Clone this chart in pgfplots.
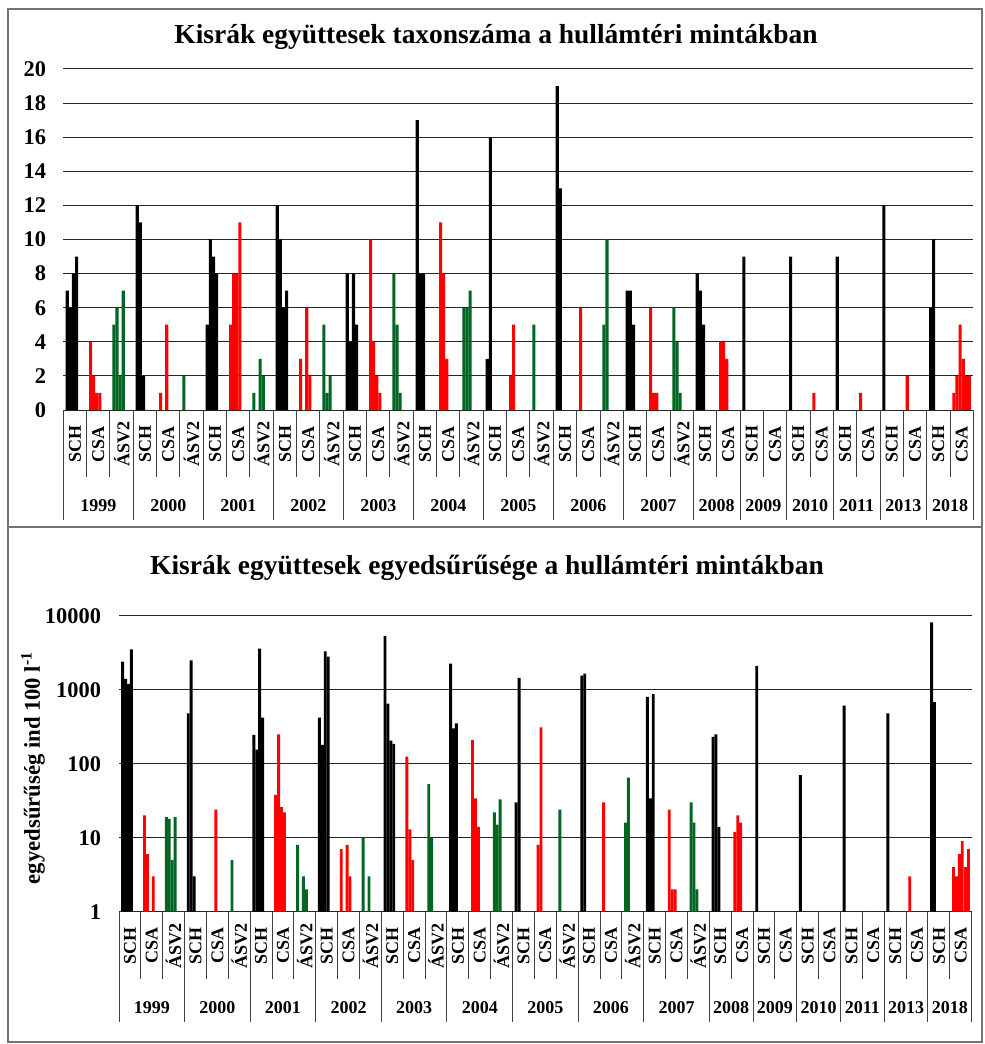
\documentclass[border=0pt]{standalone}
\usepackage{fontspec}
\setmainfont{Liberation Serif}
\usepackage{pgfplots}
\usepackage{pgfplotstable}
\pgfplotsset{compat=1.18}
\definecolor{cgreen}{RGB}{0,102,34}
\definecolor{cred}{RGB}{255,0,0}
\newcommand\tickfont{\fontsize{16.8}{18}\selectfont\bfseries}
\newcommand\catfont{\fontsize{13.5}{15}\selectfont\bfseries}
\newcommand\titlefont{\fontsize{20.6}{23}\selectfont\bfseries}
\newcommand\ylabfont{\fontsize{17}{19}\selectfont\bfseries}

% ---------- top panel: taxon number ----------
\pgfplotstableread{
x s0 s1 s2 s3 s4 s5
0 7 6 8 9 nan nan
3 12 11 2 nan nan nan
6 5 10 9 8 nan nan
9 12 10 6 7 nan nan
12 8 4 8 5 nan nan
15 17 8 8 nan nan nan
18 3 16 nan nan nan nan
21 19 13 nan nan nan nan
24 7 7 5 nan nan nan
27 8 7 5 nan nan nan
29 9 nan nan nan nan nan
31 9 nan nan nan nan nan
33 9 nan nan nan nan nan
35 12 nan nan nan nan nan
37 6 10 nan nan nan nan
}\topSCH
\pgfplotstableread{
x s0 s1 s2 s3 s4 s5
1 4 2 1 1 nan nan
4 1 nan 5 nan nan nan
7 5 8 8 11 nan nan
10 3 nan 6 2 nan nan
13 10 4 2 1 nan nan
16 11 8 3 nan nan nan
19 2 5 nan nan nan nan
22 6 nan nan nan nan nan
25 6 1 1 nan nan nan
28 4 4 3 nan nan nan
32 1 nan nan nan nan nan
34 1 nan nan nan nan nan
36 2 nan nan nan nan nan
38 1 2 5 3 2 2
}\topCSA
\pgfplotstableread{
x s0 s1 s2 s3 s4 s5
2 5 6 2 7 nan nan
5 2 nan nan nan nan nan
8 1 nan 3 2 nan nan
11 5 1 2 nan nan nan
14 8 5 1 nan nan nan
17 6 6 7 nan nan nan
20 5 nan nan nan nan nan
23 5 10 nan nan nan nan
26 6 4 1 nan nan nan
}\topASV
% ---------- bottom panel: density ----------
\pgfplotstableread{
x s0 s1 s2 s3 s4 s5
0 2400 1400 1200 3500 nan nan
3 480 2500 3 nan nan nan
6 245 155 3600 420 nan nan
9 420 180 3300 2800 nan nan
12 5300 650 205 185 nan nan
15 2250 300 350 nan nan nan
18 30 1450 nan nan nan nan
21 1550 1650 nan nan nan nan
24 800 34 870 nan nan nan
27 230 250 14 nan nan nan
29 2100 nan nan nan nan nan
31 70 nan nan nan nan nan
33 610 nan nan nan nan nan
35 480 nan nan nan nan nan
37 8100 680 nan nan nan nan
}\botSCH
\pgfplotstableread{
x s0 s1 s2 s3 s4 s5
1 20 6 1 3 nan nan
4 1 nan 24 nan nan nan
7 38 250 26 22 nan nan
10 7 nan 8 3 nan nan
13 125 13 5 1 nan nan
16 210 34 14 nan nan nan
19 8 310 nan nan nan nan
22 30 nan nan nan nan nan
25 24 2 2 nan nan nan
28 12 20 16 nan nan nan
32 1 nan nan nan nan nan
34 1 nan nan nan nan nan
36 3 nan nan nan nan nan
38 4 3 6 9 4 7
}\botCSA
\pgfplotstableread{
x s0 s1 s2 s3 s4 s5
2 19 18 5 19 nan nan
5 5 nan nan nan nan nan
8 8 nan 3 2 nan nan
11 10 1 3 nan nan nan
14 53 10 1 nan nan nan
17 22 15 33 nan nan nan
20 24 nan nan nan nan nan
23 16 65 nan nan nan nan
26 30 16 2 nan nan nan
}\botASV

\newcommand\slots[2]{%
 \addplot[ybar,bar width=0.13333,bar shift=0pt,fill=#2,draw=none] table[x expr=\thisrow{x}-0.33333,y=s0]{#1};
 \addplot[ybar,bar width=0.13333,bar shift=0pt,fill=#2,draw=none] table[x expr=\thisrow{x}-0.2,y=s1]{#1};
 \addplot[ybar,bar width=0.13333,bar shift=0pt,fill=#2,draw=none] table[x expr=\thisrow{x}-0.06667,y=s2]{#1};
 \addplot[ybar,bar width=0.13333,bar shift=0pt,fill=#2,draw=none] table[x expr=\thisrow{x}+0.06667,y=s3]{#1};
 \addplot[ybar,bar width=0.13333,bar shift=0pt,fill=#2,draw=none] table[x expr=\thisrow{x}+0.2,y=s4]{#1};
 \addplot[ybar,bar width=0.13333,bar shift=0pt,fill=#2,draw=none] table[x expr=\thisrow{x}+0.33333,y=s5]{#1};
}

% category axis labels drawn in pixel units: #1 left, #2 category width, #3 axis line y
\newcommand\catlabels[3]{%
 \foreach \n [count=\i from 0] in {SCH,CSA,ÁSV2,SCH,CSA,ÁSV2,SCH,CSA,ÁSV2,SCH,CSA,ÁSV2,SCH,CSA,ÁSV2,SCH,CSA,ÁSV2,SCH,CSA,ÁSV2,SCH,CSA,ÁSV2,SCH,CSA,ÁSV2,SCH,CSA,SCH,CSA,SCH,CSA,SCH,CSA,SCH,CSA,SCH,CSA}{
   \node[rotate=90,font=\catfont,inner sep=0pt] at ({#1+#2*(\i+0.5)},{#3+34}) {\n};
 }
 \foreach \i in {0,...,39}{
   \draw[black!75,line width=0.75pt] ({#1+#2*\i},#3) -- ({#1+#2*\i},{#3+67});
 }
 \foreach \i in {0,3,6,9,12,15,18,21,24,27,29,31,33,35,37,39}{
   \draw[black!75,line width=0.75pt] ({#1+#2*\i},#3) -- ({#1+#2*\i},{#3+110});
 }
 \foreach \y/\a/\b in {1999/0/3,2000/3/6,2001/6/9,2002/9/12,2003/12/15,2004/15/18,2005/18/21,2006/21/24,2007/24/27,2008/27/29,2009/29/31,2010/31/33,2011/33/35,2013/35/37,2018/37/39}{
   \node[font=\catfont,inner sep=0pt] at ({#1+#2*(\a+\b)/2},{#3+96}) {\y};
 }
}

\begin{document}
\begin{tikzpicture}
\begin{scope}[x=0.75pt,y=-0.75pt]
 \path[use as bounding box] (0,0) rectangle (984,1044);
 \fill[white] (0,0) rectangle (984,1044);
 \draw[black!55,line width=1.1pt] (8,9) rectangle (982,1042);
 \draw[black!55,line width=1.1pt] (8,527) -- (982,527);
\end{scope}

\begin{axis}[
  at={(47.5pt,-307.5pt)}, anchor=south west,
  scale only axis, width=682.5pt, height=255.75pt,
  xmin=-0.5, xmax=38.5, ymin=0, ymax=20,
  xtick=\empty,
  ytick={0,2,4,6,8,10,12,14,16,18,20},
  yticklabels={0,2,4,6,8,10,12,14,16,18,20},
  yticklabel style={font=\tickfont, xshift=-9.5pt},
  ymajorgrids, grid style={black!85,line width=0.75pt},
  axis line style={draw=none}, major tick length=0pt,
  clip=false,
]
\slots{\topSCH}{black}
\slots{\topCSA}{cred}
\slots{\topASV}{cgreen}
\end{axis}

\begin{axis}[
  at={(89.25pt,-683.78pt)}, anchor=south west,
  scale only axis, width=639.52pt, height=222pt,
  xmin=-0.5, xmax=38.5, ymode=log, ymin=1, ymax=10000,
  xtick=\empty,
  ytick={1,10,100,1000,10000},
  yticklabels={1,10,100,1000,10000},
  yticklabel style={font=\tickfont, xshift=-10pt},
  ymajorgrids, grid style={black!85,line width=0.75pt},
  axis line style={draw=none}, major tick length=0pt, minor tick length=0pt,
  clip=false,
]
\slots{\botSCH}{black}
\slots{\botCSA}{cred}
\slots{\botASV}{cgreen}
\end{axis}

\begin{scope}[x=0.75pt,y=-0.75pt]
 \node[font=\titlefont] at (496,37) {Kisrák együttesek taxonszáma a hullámtéri mintákban};
 \node[font=\titlefont] at (487,568) {Kisrák együttesek egyedsűrűsége a hullámtéri mintákban};
 \node[font=\ylabfont,rotate=90] at (33,768) {egyedsűrűség ind 100 l\textsuperscript{-1}};
 \catlabels{63.33}{23.333}{410}
 \catlabels{119}{21.864}{911.7}
\end{scope}
\end{tikzpicture}
\end{document}
